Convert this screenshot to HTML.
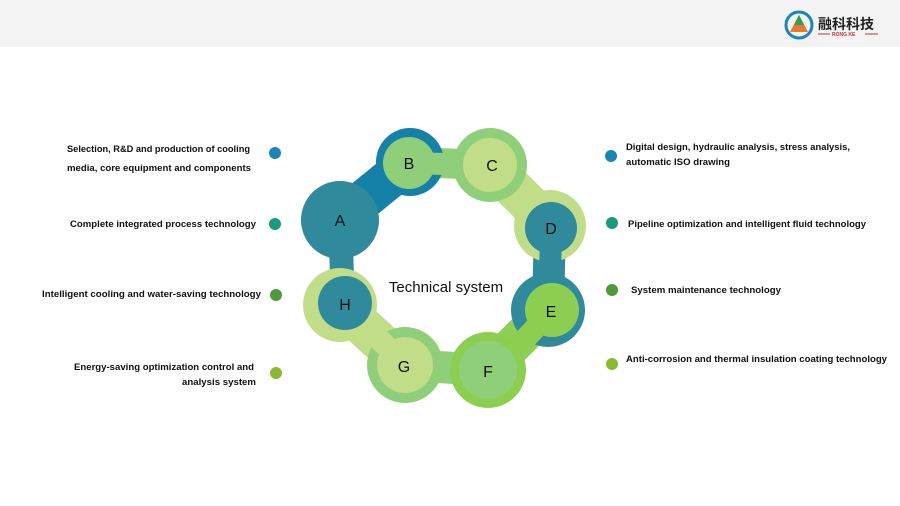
<!DOCTYPE html>
<html><head><meta charset="utf-8"><style>
html,body{margin:0;padding:0;background:#fff;width:900px;height:506px;overflow:hidden}
svg{display:block}
.t{font-family:"Liberation Sans",sans-serif;font-weight:bold;font-size:9px;fill:#111}
.l{font-family:"Liberation Sans",sans-serif;font-size:16px;fill:#111}
</style></head><body>
<svg width="900" height="506" viewBox="0 0 900 506">
<rect x="0" y="0" width="900" height="47" fill="#f3f3f3"/>
<circle cx="799" cy="25" r="13" fill="none" stroke="#1a86c0" stroke-width="3"/>
<polygon points="799,15 790,32 808,32" fill="#e8792a"/>
<polygon points="799,15 794,25 804,25" fill="#2ba05a"/>
<text x="818" y="29" font-family="Noto Sans CJK SC,sans-serif" font-size="14" font-weight="bold" fill="#222">融科科技</text>
<line x1="818" y1="34" x2="830" y2="34" stroke="#c33" stroke-width="1"/>
<line x1="865" y1="34" x2="878" y2="34" stroke="#c33" stroke-width="1"/>
<text x="832" y="36" font-family="Liberation Sans,sans-serif" font-size="5" font-weight="bold" fill="#c33">RONG KE</text>

<g stroke-linecap="round">
<line x1="345" y1="215" x2="410" y2="162" stroke="#1580a8" stroke-width="40"/>
<line x1="410" y1="162" x2="490" y2="165" stroke="#8fcf7a" stroke-width="30"/>
<line x1="490" y1="165" x2="550" y2="225" stroke="#c2dd88" stroke-width="40"/>
<line x1="550" y1="225" x2="548" y2="310" stroke="#2f8a9b" stroke-width="32"/>
<line x1="548" y1="310" x2="488" y2="370" stroke="#8fcf55" stroke-width="38"/>
<line x1="488" y1="370" x2="405" y2="365" stroke="#8fcf7a" stroke-width="32"/>
<line x1="405" y1="365" x2="340" y2="305" stroke="#c2dd88" stroke-width="40"/>
<line x1="340" y1="220" x2="343" y2="303" stroke="#2f8a9b" stroke-width="24"/>
</g>
<circle cx="410" cy="162" r="34" fill="#1580a8"/>
<circle cx="490" cy="165" r="37" fill="#8fcf7a"/>
<circle cx="550" cy="226" r="36" fill="#c2dd88"/>
<circle cx="548" cy="310" r="37" fill="#2f8a9b"/>
<circle cx="488" cy="370" r="38" fill="#8ccf50"/>
<circle cx="405" cy="365" r="38" fill="#8fcf7a"/>
<circle cx="340" cy="305" r="37" fill="#c2dd88"/>
<circle cx="340" cy="220" r="39" fill="#2f8a9b"/>
<g stroke-linecap="round">
<line x1="409" y1="163" x2="445" y2="164" stroke="#8fcf7a" stroke-width="22"/>
<line x1="551" y1="228" x2="550" y2="280" stroke="#2f8a9b" stroke-width="22"/>
<line x1="552" y1="310" x2="515" y2="350" stroke="#8ccf50" stroke-width="22"/>
<line x1="405" y1="365" x2="370" y2="330" stroke="#c2dd88" stroke-width="22"/>
</g>
<circle cx="409" cy="163" r="26" fill="#8fcf7a"/>
<circle cx="490" cy="165" r="27" fill="#c2dd88"/>
<circle cx="551" cy="228" r="26" fill="#2f8a9b"/>
<circle cx="552" cy="310" r="27" fill="#8ccf50"/>
<circle cx="488" cy="370" r="29" fill="#8fcf7a"/>
<circle cx="405" cy="365" r="28" fill="#c2dd88"/>
<circle cx="345" cy="303" r="27" fill="#2f8a9b"/>

<text class="l" x="340" y="226" text-anchor="middle">A</text>
<text class="l" x="409" y="169" text-anchor="middle">B</text>
<text class="l" x="492" y="171" text-anchor="middle">C</text>
<text class="l" x="551" y="234" text-anchor="middle">D</text>
<text class="l" x="551" y="317" text-anchor="middle">E</text>
<text class="l" x="488" y="377" text-anchor="middle">F</text>
<text class="l" x="404" y="372" text-anchor="middle">G</text>
<text class="l" x="345" y="310" text-anchor="middle">H</text>
<text x="446" y="292" text-anchor="middle" font-family="Liberation Sans,sans-serif" font-size="15" fill="#111">Technical system</text>

<circle cx="275" cy="153" r="6" fill="#1a86b8"/>
<circle cx="275" cy="224" r="6" fill="#1a9a7e"/>
<circle cx="276" cy="295" r="6" fill="#4e9a3a"/>
<circle cx="276" cy="373" r="6" fill="#8ab92f"/>
<circle cx="611" cy="156" r="6" fill="#1a86b8"/>
<circle cx="612" cy="223" r="6" fill="#1a9a7e"/>
<circle cx="612" cy="290" r="6" fill="#4e9a3a"/>
<circle cx="612" cy="364" r="6" fill="#8ab92f"/>

<text class="t" x="67" y="152" textLength="183" lengthAdjust="spacingAndGlyphs">Selection, R&amp;D and production of cooling</text>
<text class="t" x="67" y="171" textLength="184" lengthAdjust="spacingAndGlyphs">media, core equipment and components</text>
<text class="t" x="70" y="227" textLength="186" lengthAdjust="spacingAndGlyphs">Complete integrated process technology</text>
<text class="t" x="42" y="297" textLength="219" lengthAdjust="spacingAndGlyphs">Intelligent cooling and water-saving technology</text>
<text class="t" x="74" y="370" textLength="180" lengthAdjust="spacingAndGlyphs">Energy-saving optimization control and</text>
<text class="t" x="182" y="385" textLength="74" lengthAdjust="spacingAndGlyphs">analysis system</text>
<text class="t" x="626" y="150" textLength="224" lengthAdjust="spacingAndGlyphs">Digital design, hydraulic analysis, stress analysis,</text>
<text class="t" x="626" y="165" textLength="104" lengthAdjust="spacingAndGlyphs">automatic ISO drawing</text>
<text class="t" x="628" y="227" textLength="238" lengthAdjust="spacingAndGlyphs">Pipeline optimization and intelligent fluid technology</text>
<text class="t" x="631" y="293" textLength="150" lengthAdjust="spacingAndGlyphs">System maintenance technology</text>
<text class="t" x="626" y="362" textLength="261" lengthAdjust="spacingAndGlyphs">Anti-corrosion and thermal insulation coating technology</text>
</svg>
</body></html>
